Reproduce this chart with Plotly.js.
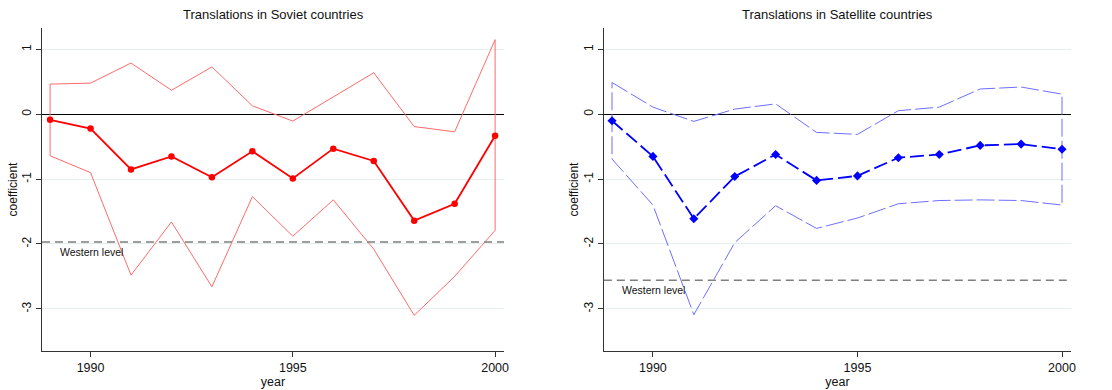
<!DOCTYPE html>
<html><head><meta charset="utf-8">
<script src="https://cdn.plot.ly/plotly-3.0.1.min.js"></script>
<style>body{margin:0;background:#fff}#c{width:1112px;height:390px}</style>
</head><body><div id="c"></div>
<script>
const years = [1989,1990,1991,1992,1993,1994,1995,1996,1997,1998,1999,2000];
const sovietCoef  = [-0.085,-0.22,-0.85,-0.65,-0.97,-0.57,-0.99,-0.53,-0.72,-1.64,-1.38,-0.33];
const sovietUpper = [0.465,0.48,0.79,0.37,0.73,0.13,-0.105,0.27,0.64,-0.19,-0.27,1.15];
const sovietLower = [-0.64,-0.9,-2.48,-1.66,-2.66,-1.27,-1.88,-1.32,-2.08,-3.1,-2.5,-1.79];
const satCoef  = [-0.1,-0.65,-1.61,-0.96,-0.62,-1.02,-0.95,-0.67,-0.62,-0.48,-0.46,-0.54];
const satUpper = [0.49,0.11,-0.11,0.08,0.16,-0.28,-0.31,0.055,0.11,0.39,0.42,0.31];
const satLower = [-0.69,-1.4,-3.09,-1.98,-1.41,-1.76,-1.6,-1.38,-1.33,-1.32,-1.33,-1.4];
const westernSoviet = -1.97;
const westernSat = -2.56;
const titles = ["Translations in Soviet countries","Translations in Satellite countries"];
const westernLabel = "Western level";

function ring(up, lo){
  const x = years.concat(years.slice().reverse(), [years[0]]);
  const y = up.concat(lo.slice().reverse(), [up[0]]);
  return {x, y};
}
const r1 = ring(sovietUpper, sovietLower);
const r2 = ring(satUpper, satLower);
const FONT = "Liberation Sans, Arial, sans-serif";
const traces = [
  {x:r1.x, y:r1.y, xaxis:'x', yaxis:'y', mode:'lines', line:{color:'#ff6b6b', width:1}, hoverinfo:'skip'},
  {x:years, y:sovietCoef, xaxis:'x', yaxis:'y', mode:'lines+markers', line:{color:'#ff0000', width:1.8}, marker:{symbol:'circle', size:6.5, color:'#ff0000'}},
  {x:r2.x, y:r2.y, xaxis:'x2', yaxis:'y2', mode:'lines', line:{color:'#6e6eff', width:1, dash:'18px,4px'}, hoverinfo:'skip'},
  {x:years, y:satCoef, xaxis:'x2', yaxis:'y2', mode:'lines+markers', line:{color:'#0000ff', width:1.8, dash:'14px,5px'}, marker:{symbol:'diamond', size:7, color:'#0000ff'}}
];
const xr = [1988.8, 2000.22];
const yr = [-3.65, 1.33];
function xa(dom, anchor){
  return {domain:dom, anchor:anchor, range:xr, tickvals:[1990,1995,2000], ticktext:['1990','1995','2000'],
    showgrid:false, zeroline:false, showline:true, linecolor:'#333', linewidth:1,
    ticks:'outside', ticklen:5, tickcolor:'#333', tickfont:{family:FONT,size:12.5,color:'#111'},
    title:{text:'year', font:{family:FONT,size:12.5,color:'#111'}, standoff:2}};
}
function ya(anchor){
  return {domain:[0,1], anchor:anchor, range:yr, tickvals:[-3,-2,-1,0,1], ticktext:['-3','-2','-1','0','1'],
    tickangle:-90, showgrid:true, gridcolor:'#e6eff0', gridwidth:1, zeroline:true, zerolinecolor:'#000', zerolinewidth:1.5,
    showline:true, linecolor:'#333', linewidth:1, ticks:'outside', ticklen:5, tickcolor:'#333',
    tickfont:{family:FONT,size:12,color:'#111'},
    title:{text:'coefficient', font:{family:FONT,size:12,color:'#111'}, standoff:0}};
}
const layout = {
  width:1112, height:390, showlegend:false, paper_bgcolor:'#fff', plot_bgcolor:'#fff',
  margin:{l:42, r:41, t:28, b:39},
  xaxis: xa([0,0.449],'y'), yaxis: ya('x'),
  xaxis2: xa([0.546,1],'y2'), yaxis2: ya('x2'),
  shapes:[
    {type:'line', xref:'x domain', yref:'y', x0:0, x1:1, y0:westernSoviet, y1:westernSoviet, line:{color:'#7f7f7f', width:1.5, dash:'8px,5px'}},
    {type:'line', xref:'x2 domain', yref:'y2', x0:0, x1:1, y0:westernSat, y1:westernSat, line:{color:'#7f7f7f', width:1.5, dash:'8px,5px'}}
  ],
  annotations:[
    {text:titles[0], xref:'x domain', yref:'paper', x:0.5, y:1, yshift:4, yanchor:'bottom', showarrow:false, font:{family:FONT,size:13,color:'#111'}},
    {text:titles[1], xref:'x2 domain', yref:'paper', x:0.5, y:1, yshift:4, yanchor:'bottom', showarrow:false, font:{family:FONT,size:13,color:'#111'}},
    {text:westernLabel, xref:'x', yref:'y', x:1989.2, y:westernSoviet, xanchor:'left', yanchor:'top', yshift:-2, showarrow:false, font:{family:FONT,size:10.5,color:'#111'}},
    {text:westernLabel, xref:'x2', yref:'y2', x:1989.2, y:westernSat, xanchor:'left', yanchor:'top', yshift:-2, showarrow:false, font:{family:FONT,size:10.5,color:'#111'}}
  ]
};
Plotly.newPlot('c', traces, layout, {staticPlot:true});
</script></body></html>
